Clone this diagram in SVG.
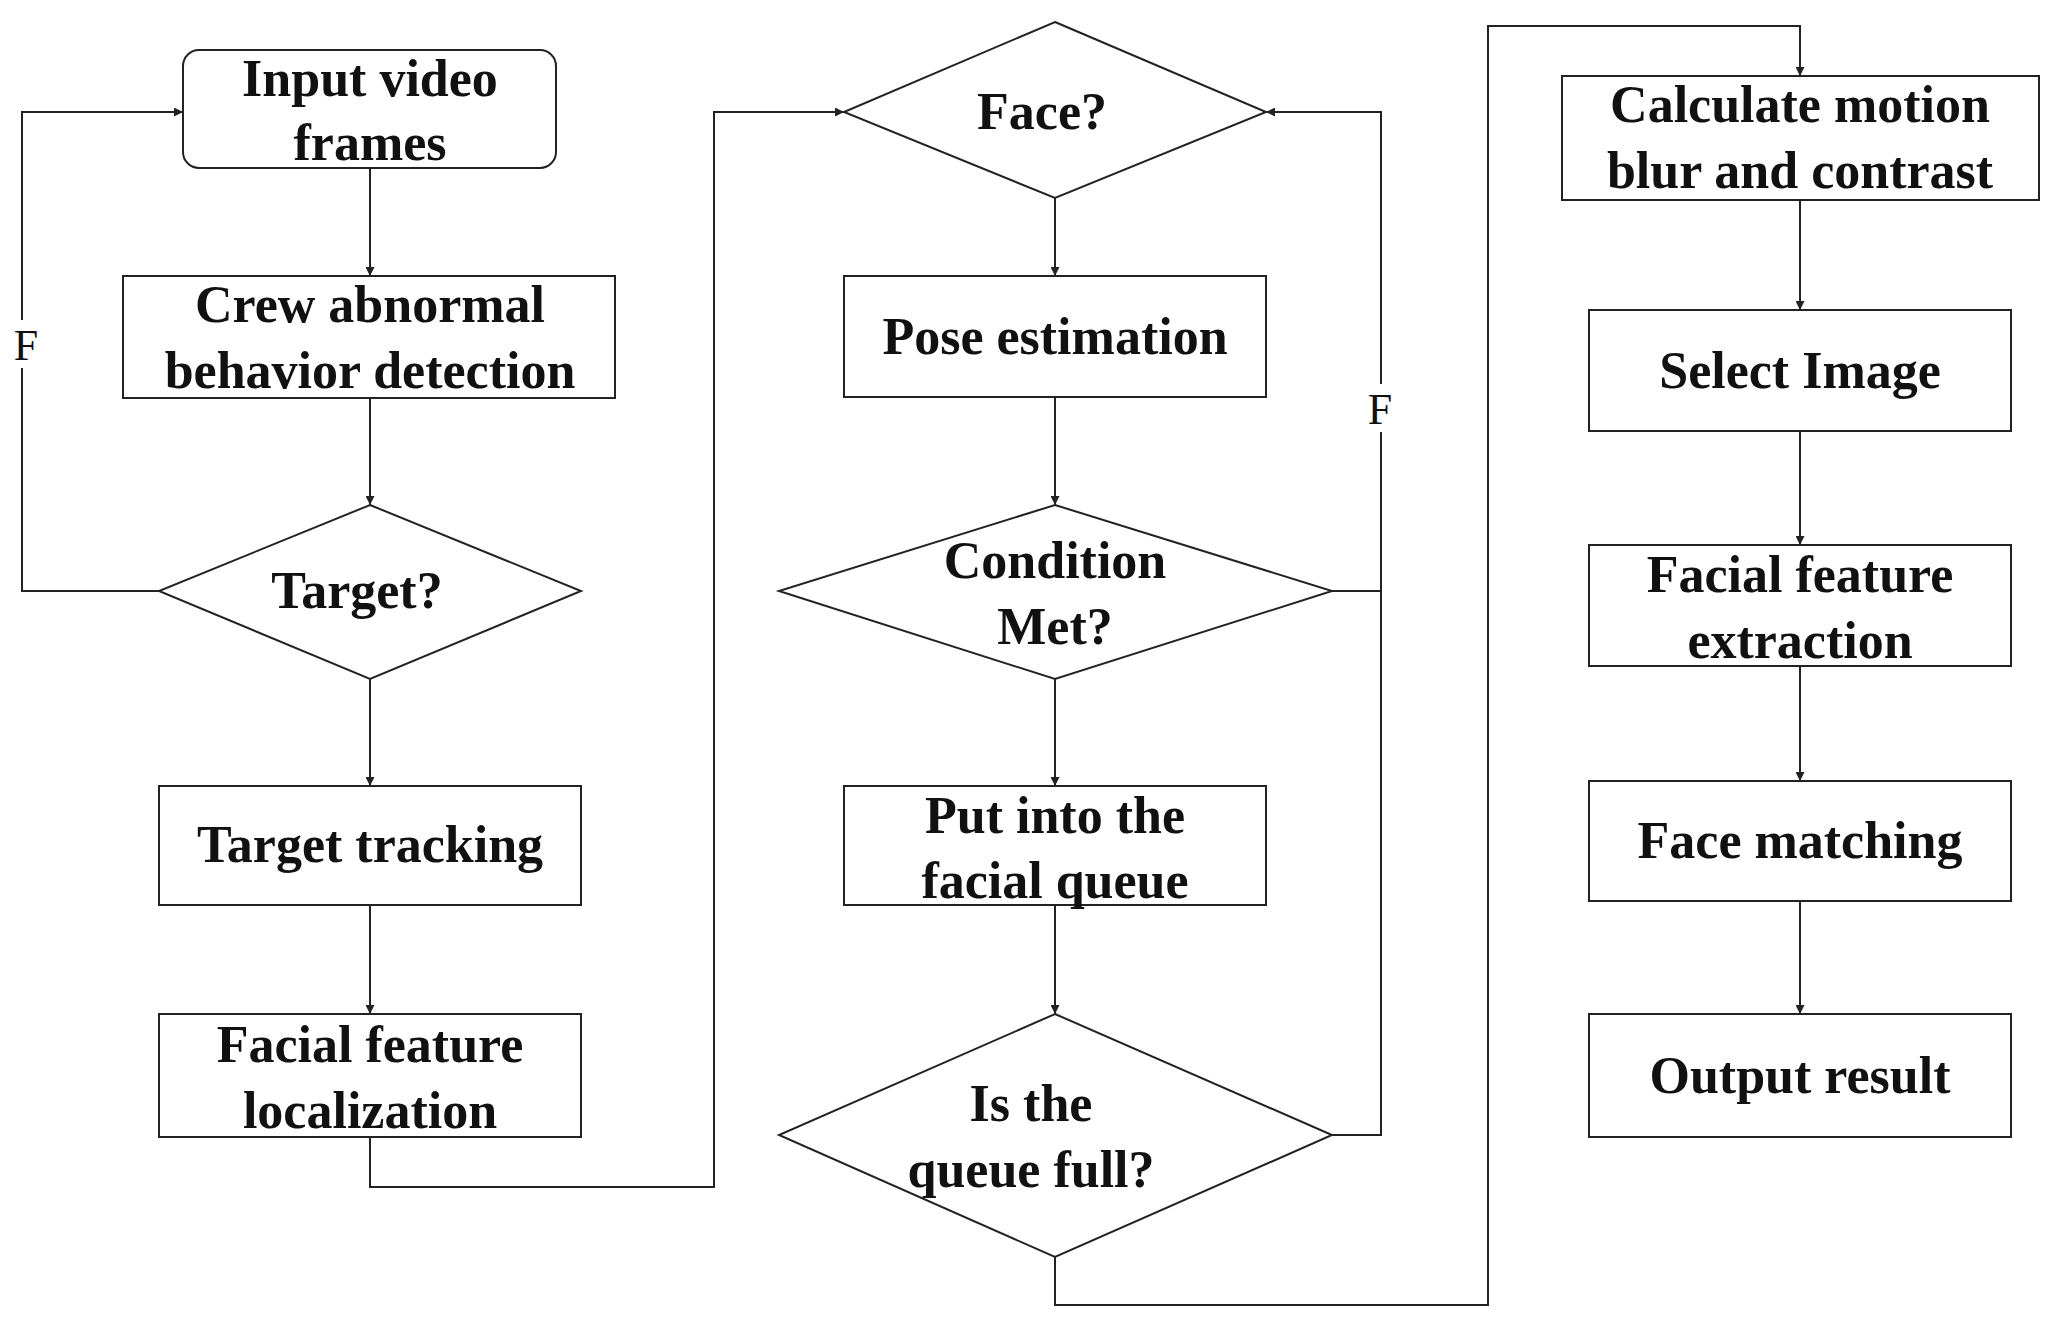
<svg xmlns="http://www.w3.org/2000/svg" width="2058" height="1327" viewBox="0 0 2058 1327">
<style>
.n{fill:#fff;stroke:#222;stroke-width:2}
.t{font-family:"Liberation Serif",serif;font-weight:bold;font-size:52px;text-anchor:middle;fill:#111}
.f{font-family:"Liberation Serif",serif;font-size:44px;text-anchor:middle;fill:#111}
.c{fill:none;stroke:#222;stroke-width:2}
</style>
<defs><marker id="a" viewBox="0 0 10 10" refX="10" refY="5" markerWidth="9" markerHeight="9" markerUnits="userSpaceOnUse" orient="auto"><path d="M0,0L10,5L0,10z" fill="#222"/></marker></defs>
<rect width="2058" height="1327" fill="#fff"/>
<g id="connectors">
<path class="c" d="M370,168V276" marker-end="url(#a)"/>
<path class="c" d="M370,398V505" marker-end="url(#a)"/>
<path class="c" d="M370,679V786" marker-end="url(#a)"/>
<path class="c" d="M370,905V1014" marker-end="url(#a)"/>
<path class="c" d="M159,591H22V112H183" marker-end="url(#a)"/>
<path class="c" d="M370,1137V1187H714V112H844" marker-end="url(#a)"/>
<path class="c" d="M1055,198V276" marker-end="url(#a)"/>
<path class="c" d="M1055,397V505" marker-end="url(#a)"/>
<path class="c" d="M1055,679V786" marker-end="url(#a)"/>
<path class="c" d="M1055,905V1014" marker-end="url(#a)"/>
<path class="c" d="M1332,591H1381"/>
<path class="c" d="M1332,1135H1381V112H1266" marker-end="url(#a)"/>
<path class="c" d="M1055,1257V1305H1488V26H1800V76" marker-end="url(#a)"/>
<path class="c" d="M1800,200V310" marker-end="url(#a)"/>
<path class="c" d="M1800,431V545" marker-end="url(#a)"/>
<path class="c" d="M1800,666V781" marker-end="url(#a)"/>
<path class="c" d="M1800,901V1014" marker-end="url(#a)"/>
<rect x="6" y="320" width="40" height="48" fill="#fff"/>
<text class="f" x="26" y="360">F</text>
<rect x="1361" y="384" width="40" height="48" fill="#fff"/>
<text class="f" x="1380" y="424">F</text>
</g>
<g id="input"><rect class="n" x="183" y="50" width="373" height="118" rx="16"/><text class="t" x="370" y="96">Input video</text><text class="t" x="370" y="160">frames</text></g>
<g id="crew"><rect class="n" x="123" y="276" width="492" height="122"/><text class="t" x="370" y="322">Crew abnormal</text><text class="t" x="370" y="388">behavior detection</text></g>
<g id="target"><path class="n" d="M370,505L581,591L370,679L159,591z"/><text class="t" x="357" y="608">Target?</text></g>
<g id="tracking"><rect class="n" x="159" y="786" width="422" height="119"/><text class="t" x="370" y="862">Target tracking</text></g>
<g id="localization"><rect class="n" x="159" y="1014" width="422" height="123"/><text class="t" x="370" y="1062">Facial feature</text><text class="t" x="370" y="1128">localization</text></g>
<g id="face"><path class="n" d="M1055,22L1266,112L1055,198L844,112z"/><text class="t" x="1042" y="129">Face?</text></g>
<g id="pose"><rect class="n" x="844" y="276" width="422" height="121"/><text class="t" x="1055" y="354">Pose estimation</text></g>
<g id="condition"><path class="n" d="M1055,505L1332,591L1055,679L779,591z"/><text class="t" x="1055" y="578">Condition</text><text class="t" x="1055" y="644">Met?</text></g>
<g id="put"><rect class="n" x="844" y="786" width="422" height="119"/><text class="t" x="1055" y="833">Put into the</text><text class="t" x="1055" y="898">facial queue</text></g>
<g id="queue"><path class="n" d="M1055,1014L1332,1135L1055,1257L779,1135z"/><text class="t" x="1031" y="1121">Is the</text><text class="t" x="1031" y="1187">queue full?</text></g>
<g id="calc"><rect class="n" x="1562" y="76" width="477" height="124"/><text class="t" x="1800" y="122">Calculate motion</text><text class="t" x="1800" y="188">blur and contrast</text></g>
<g id="select"><rect class="n" x="1589" y="310" width="422" height="121"/><text class="t" x="1800" y="388">Select Image</text></g>
<g id="extraction"><rect class="n" x="1589" y="545" width="422" height="121"/><text class="t" x="1800" y="592">Facial feature</text><text class="t" x="1800" y="658">extraction</text></g>
<g id="matching"><rect class="n" x="1589" y="781" width="422" height="120"/><text class="t" x="1800" y="858">Face matching</text></g>
<g id="output"><rect class="n" x="1589" y="1014" width="422" height="123"/><text class="t" x="1800" y="1093">Output result</text></g>
</svg>
